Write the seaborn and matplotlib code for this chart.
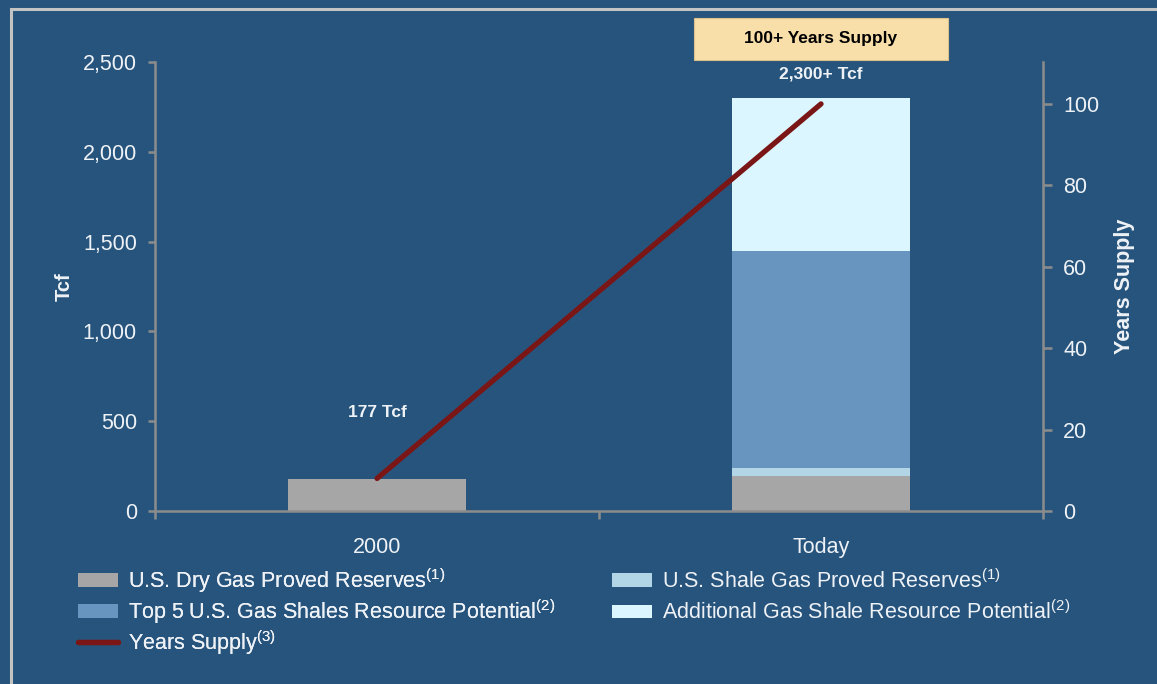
import numpy as np
import pandas as pd
import matplotlib
matplotlib.use("Agg")
import matplotlib.pyplot as plt
from matplotlib.patches import Rectangle, Patch
from matplotlib.lines import Line2D
import matplotlib.transforms as mtransforms
import seaborn as sns

# ---- data -------------------------------------------------------------
categories = ["2000", "Today"]
dry_gas_proved = [177, 195]            # Tcf
shale_gas_proved = [0, 45]             # Tcf
top5_shale_potential = [0, 1210]       # Tcf
additional_shale_potential = [0, 850]  # Tcf
years_supply = [8, 100]                # years

series_names = [
    r"U.S. Dry Gas Proved Reserves$^{(1)}$",
    r"U.S. Shale Gas Proved Reserves$^{(1)}$",
    r"Top 5 U.S. Gas Shales Resource Potential$^{(2)}$",
    r"Additional Gas Shale Resource Potential$^{(2)}$",
]
line_name = r"Years Supply$^{(3)}$"

# ---- style ------------------------------------------------------------
BG = "#27547c"
AXIS = "#8c8c8c"
TXT = "#eef2f6"
COLORS = ["#a6a6a6", "#b3d6e6", "#6895bf", "#dbf6ff"]
LINE = "#7b1616"
TICK_FS = 15.5
LEG_FS = 15.5
NOTE_FS = 12.5

sns.set_theme(style="white")
plt.rcParams["font.family"] = ["Liberation Sans", "DejaVu Sans"]
plt.rcParams["mathtext.fontset"] = "custom"
plt.rcParams["mathtext.rm"] = "Liberation Sans"
plt.rcParams["mathtext.it"] = "Liberation Sans"
NARROW = ["Liberation Sans Narrow", "Liberation Sans"]

fig = plt.figure(figsize=(11.57, 6.84), dpi=100, facecolor=BG)
ax = fig.add_axes([0.134, 0.2529, 0.7675, 0.6565])
ax.set_facecolor(BG)

df = pd.DataFrame({
    "category": categories,
    "dry": dry_gas_proved,
    "shale": shale_gas_proved,
    "top5": top5_shale_potential,
    "extra": additional_shale_potential,
})
layers = ["dry", "shale", "top5", "extra"]
cum = df[layers].cumsum(axis=1)

# stacked bars: draw the tallest cumulative layer first, then cover downward
for key, color in reversed(list(zip(layers, COLORS))):
    sns.barplot(x=df["category"], y=cum[key], color=color, saturation=1,
                width=0.4, linewidth=0, edgecolor="none", ax=ax, order=categories)

ax.set_xlim(-0.5, 1.5)
ax.set_ylim(0, 2500)
ax.set_yticks(np.arange(0, 2501, 500))
ax.set_yticklabels([f"{v:,}" for v in range(0, 2501, 500)])
ax.set_xlabel("")
ax.set_ylabel("Tcf", color=TXT, fontsize=14.5, fontweight="bold")
ax.yaxis.set_label_coords(-0.092, 0.5)

for s in ["top", "right"]:
    ax.spines[s].set_visible(False)
for s in ["left", "bottom"]:
    ax.spines[s].set_color(AXIS)
    ax.spines[s].set_linewidth(1.8)

ax.tick_params(axis="y", direction="out", length=5, width=1.8, color=AXIS,
               labelcolor=TXT, labelsize=TICK_FS, pad=8, left=True)
ax.tick_params(axis="x", which="major", length=0, labelcolor=TXT,
               labelsize=TICK_FS, pad=19)
ax.set_xticks([-0.5, 0.5, 1.5], minor=True)
ax.tick_params(axis="x", which="minor", direction="out", length=6, width=1.8,
               color=AXIS, bottom=True)

# totals above the bars
totals = cum["extra"].tolist()
ax.text(0, totals[0] + 370, f"{totals[0]:,} Tcf", ha="center", va="center",
        color=TXT, fontsize=NOTE_FS, fontweight="bold", family=NARROW)
ax.text(1, totals[1] + 135, f"{totals[1]:,}+ Tcf", ha="center", va="center",
        color=TXT, fontsize=NOTE_FS, fontweight="bold", family=NARROW)

# highlight box above the Today bar
trans = mtransforms.blended_transform_factory(ax.transData, ax.transAxes)
ax.add_patch(Rectangle((1 - 0.285, 1.0045), 0.57, 0.0935, transform=trans,
                       facecolor="#f8dfaa", edgecolor="#d9c08c", linewidth=0.8,
                       clip_on=False, zorder=5))
ax.text(1, 1.052, f"{years_supply[1]}+ Years Supply", transform=trans,
        ha="center", va="center", color="black", fontsize=NOTE_FS,
        fontweight="bold", family=NARROW, zorder=6)

# years of supply on the secondary axis
ax2 = ax.twinx()
sns.lineplot(x=np.arange(len(categories)), y=years_supply, color=LINE,
             linewidth=3.8, ax=ax2, legend=False)
ax2.set_ylim(0, 110.3)
ax2.set_yticks(np.arange(0, 101, 20))
ax2.set_xlim(-0.5, 1.5)
for s in ["top", "left", "bottom"]:
    ax2.spines[s].set_visible(False)
ax2.spines["right"].set_color(AXIS)
ax2.spines["right"].set_linewidth(1.8)
ax2.tick_params(axis="y", direction="out", length=6.5, width=1.8, color=AXIS,
                labelcolor=TXT, labelsize=TICK_FS, pad=8, right=True)
ax2.set_ylabel("Years Supply", color=TXT, fontsize=15.5, fontweight="bold")
ax2.yaxis.set_label_coords(1.080, 0.5)

# legend: two columns placed independently
leg_kw = dict(loc="upper left", frameon=False, fontsize=LEG_FS, labelcolor=TXT,
              handlelength=1.86, handleheight=0.56, handletextpad=0.45,
              borderpad=0, borderaxespad=0)
left_handles = [
    Patch(facecolor=COLORS[0], edgecolor="none", label=series_names[0]),
    Patch(facecolor=COLORS[2], edgecolor="none", label=series_names[2]),
    Line2D([0], [0], color=LINE, linewidth=3.8, label=line_name),
]
right_handles = [
    Patch(facecolor=COLORS[1], edgecolor="none", label=series_names[1]),
    Patch(facecolor=COLORS[3], edgecolor="none", label=series_names[3]),
]
leg1 = fig.legend(handles=left_handles, bbox_to_anchor=(78 / 1157, 1 - 566 / 684),
                  labelspacing=0.11, **leg_kw)
fig.add_artist(leg1)
fig.legend(handles=right_handles, bbox_to_anchor=(612 / 1157, 1 - 569 / 684),
           labelspacing=0.35, **leg_kw)

# outer frame, cut by the figure edges at right and bottom
fig.patches.append(Rectangle((11 / 1157, -0.05), 1.1, 1 - 9 / 684 + 0.05,
                             transform=fig.transFigure, fill=False,
                             edgecolor="#c4c4c4", linewidth=2.2))

fig.savefig("out.png", dpi=100, facecolor=BG)
